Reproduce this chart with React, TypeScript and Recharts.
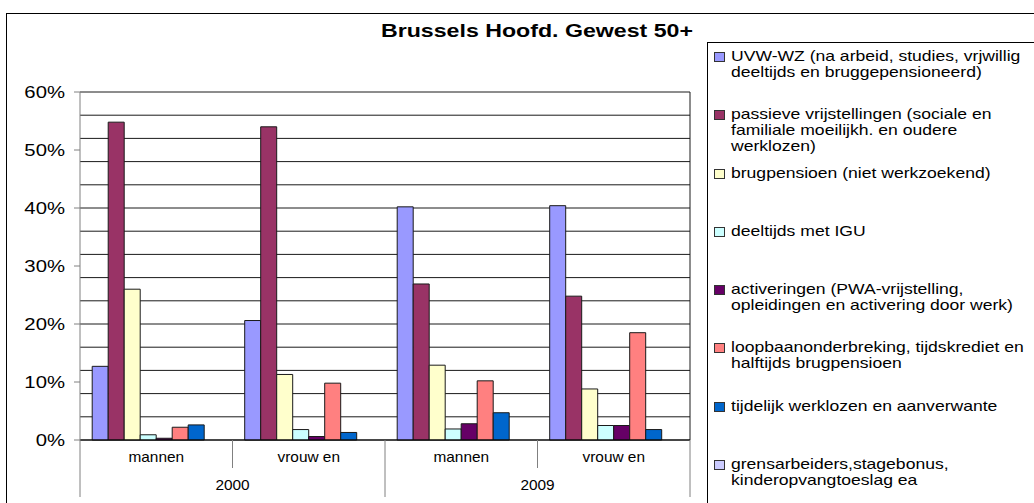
import React from "react";
import {
    BarChart,
    Bar,
    XAxis,
    YAxis,
    CartesianGrid,
} from "recharts";

const categories = ["mannen", "vrouw en", "mannen", "vrouw en"];
const years = ["2000", "2000", "2009", "2009"];

const uvw = [12.7, 20.6, 40.2, 40.4];
const passieve = [54.8, 54.0, 26.9, 24.8];
const brugpensioen = [26.0, 11.3, 12.9, 8.8];
const deeltijds = [0.9, 1.8, 1.9, 2.5];
const activeringen = [0.3, 0.6, 2.8, 2.5];
const loopbaan = [2.2, 9.8, 10.2, 18.5];
const tijdelijk = [2.6, 1.3, 4.7, 1.8];
const grensarbeiders = [0, 0, 0, 0];

const yTicks = [0, 10, 20, 30, 40, 50, 60];
const gridTicks = [0, 2, 4, 6, 8, 10, 12, 14, 16, 18, 20, 22, 24, 26, 28, 30, 32, 34, 36, 38, 40, 42, 44, 46, 48, 50, 52, 54, 56, 58, 60];

const seriesNames = [
    ["UVW-WZ (na arbeid, studies, vrjwillig", "deeltijds en bruggepensioneerd)"],
    ["passieve vrijstellingen (sociale en", "familiale moeilijkh. en oudere", "werklozen)"],
    ["brugpensioen (niet werkzoekend)"],
    ["deeltijds met IGU"],
    ["activeringen (PWA-vrijstelling,", "opleidingen en activering door werk)"],
    ["loopbaanonderbreking, tijdskrediet en", "halftijds brugpensioen"],
    ["tijdelijk werklozen en aanverwante"],
    ["grensarbeiders,stagebonus,", "kinderopvangtoeslag ea"],
];
const seriesValues = [uvw, passieve, brugpensioen, deeltijds, activeringen, loopbaan, tijdelijk, grensarbeiders];
const COLORS = ["#9999FF", "#993366", "#FFFFCC", "#CCFFFF", "#660066", "#FF8080", "#0066CC", "#CCCCFF"];

const data = categories.map((c, i) => {
    const row: any = { label: c, year: years[i] };
    seriesValues.forEach((s, k) => (row[`s${k}`] = s[i]));
    return row;
});

const FONT = "'Liberation Sans', Arial, sans-serif";
const W = 1034;
const H = 503;
const PLOT_LEFT = 80;
const PLOT_RIGHT = 690;
const PLOT_TOP = 92;
const PLOT_BOTTOM = 440;
const BAND = (PLOT_RIGHT - PLOT_LEFT) / categories.length;

const YTick = (props: any) => {
    const { x, y, payload } = props;
    return (
        <text
            transform={`translate(${x},${y}) scale(1.27,1)`}
            textAnchor="end"
            dy="0.36em"
            fontSize={16}
            fontFamily={FONT}
            fill="#000"
        >
            {payload.value}%
        </text>
    );
};

const XTick = (props: any) => {
    const { x, y, payload, index } = props;
    const half = BAND / 2;
    const first = index % 2 === 0;
    return (
        <g>
            <line x1={x - half} x2={x - half} y1={y} y2={first ? y + 57 : y + 28} stroke="#808080" />
            {index === categories.length - 1 && (
                <line x1={x + half} x2={x + half} y1={y} y2={y + 57} stroke="#808080" />
            )}
            <text
                transform={`translate(${x},${y + 22}) scale(1.1,1)`}
                textAnchor="middle"
                fontSize={14}
                fontFamily={FONT}
                fill="#000"
            >
                {payload.value}
            </text>
            {!first && (
                <text
                    transform={`translate(${x - half},${y + 50}) scale(1.1,1)`}
                    textAnchor="middle"
                    fontSize={14}
                    fontFamily={FONT}
                    fill="#000"
                >
                    {years[index]}
                </text>
            )}
        </g>
    );
};

const LegendBox = () => (
    <div
        style={{
            position: "absolute",
            left: 707,
            top: 49,
            fontFamily: FONT,
            fontSize: 15,
            lineHeight: "16px",
            color: "#000",
        }}
    >
        {seriesNames.map((lines, k) => (
            <div key={k} style={{ position: "relative", height: 58.3 }}>
                <div
                    style={{
                        position: "absolute",
                        left: 7,
                        top: 3,
                        width: 9,
                        height: 8,
                        background: COLORS[k],
                        border: "1px solid #333",
                    }}
                />
                <div
                    style={{
                        position: "absolute",
                        left: 24,
                        top: -1,
                        whiteSpace: "pre",
                        transform: "scale(1.17,1)",
                        transformOrigin: "0 0",
                    }}
                >
                    {lines.join("\n")}
                </div>
            </div>
        ))}
    </div>
);

export default function App() {
    return (
        <div
            style={{
                position: "absolute",
                left: 0,
                top: 0,
                width: W,
                height: H,
                overflow: "hidden",
                background: "#fff",
            }}
        >
            <div
                style={{
                    position: "absolute",
                    left: 6,
                    top: 13,
                    width: 1200,
                    height: 700,
                    border: "1px solid #000",
                }}
            />
            <div
                style={{
                    position: "absolute",
                    left: 707,
                    top: 42,
                    width: 700,
                    height: 700,
                    border: "1px solid #000",
                }}
            />
            <svg style={{ position: "absolute", left: 0, top: 0 }} width={W} height={60}>
                <text
                    x={537}
                    y={37}
                    textAnchor="middle"
                    fontSize={18}
                    fontWeight="bold"
                    fontFamily={FONT}
                    textLength={312}
                    lengthAdjust="spacingAndGlyphs"
                >
                    Brussels Hoofd. Gewest 50+
                </text>
            </svg>
            <LegendBox />
            <div style={{ position: "absolute", left: 0, top: 0 }}>
                <BarChart
                    width={W}
                    height={H}
                    data={data}
                    margin={{ top: PLOT_TOP, right: W - PLOT_RIGHT, bottom: 0, left: 0 }}
                    barCategoryGap="8%"
                    barGap={0}
                >
                    <CartesianGrid
                        stroke="#1a1a1a"
                        horizontalValues={gridTicks}
                        verticalPoints={[PLOT_RIGHT]}
                    />
                    <XAxis
                        dataKey="label"
                        tick={<XTick />}
                        tickLine={false}
                        tickSize={0}
                        tickMargin={0}
                        height={H - PLOT_BOTTOM}
                        axisLine={{ stroke: "#000" }}
                        interval={0}
                    />
                    <YAxis
                        width={PLOT_LEFT}
                        domain={[0, 60]}
                        ticks={yTicks}
                        tick={<YTick />}
                        tickSize={6}
                        tickMargin={9}
                        axisLine={{ stroke: "#808080" }}
                        tickLine={{ stroke: "#808080" }}
                    />
                    {seriesValues.map((_, k) => (
                        <Bar
                            key={k}
                            dataKey={`s${k}`}
                            name={seriesNames[k].join(" ")}
                            fill={COLORS[k]}
                            stroke="#1a1a1a"
                            strokeWidth={1}
                            isAnimationActive={false}
                        />
                    ))}
                </BarChart>
            </div>
        </div>
    );
}
